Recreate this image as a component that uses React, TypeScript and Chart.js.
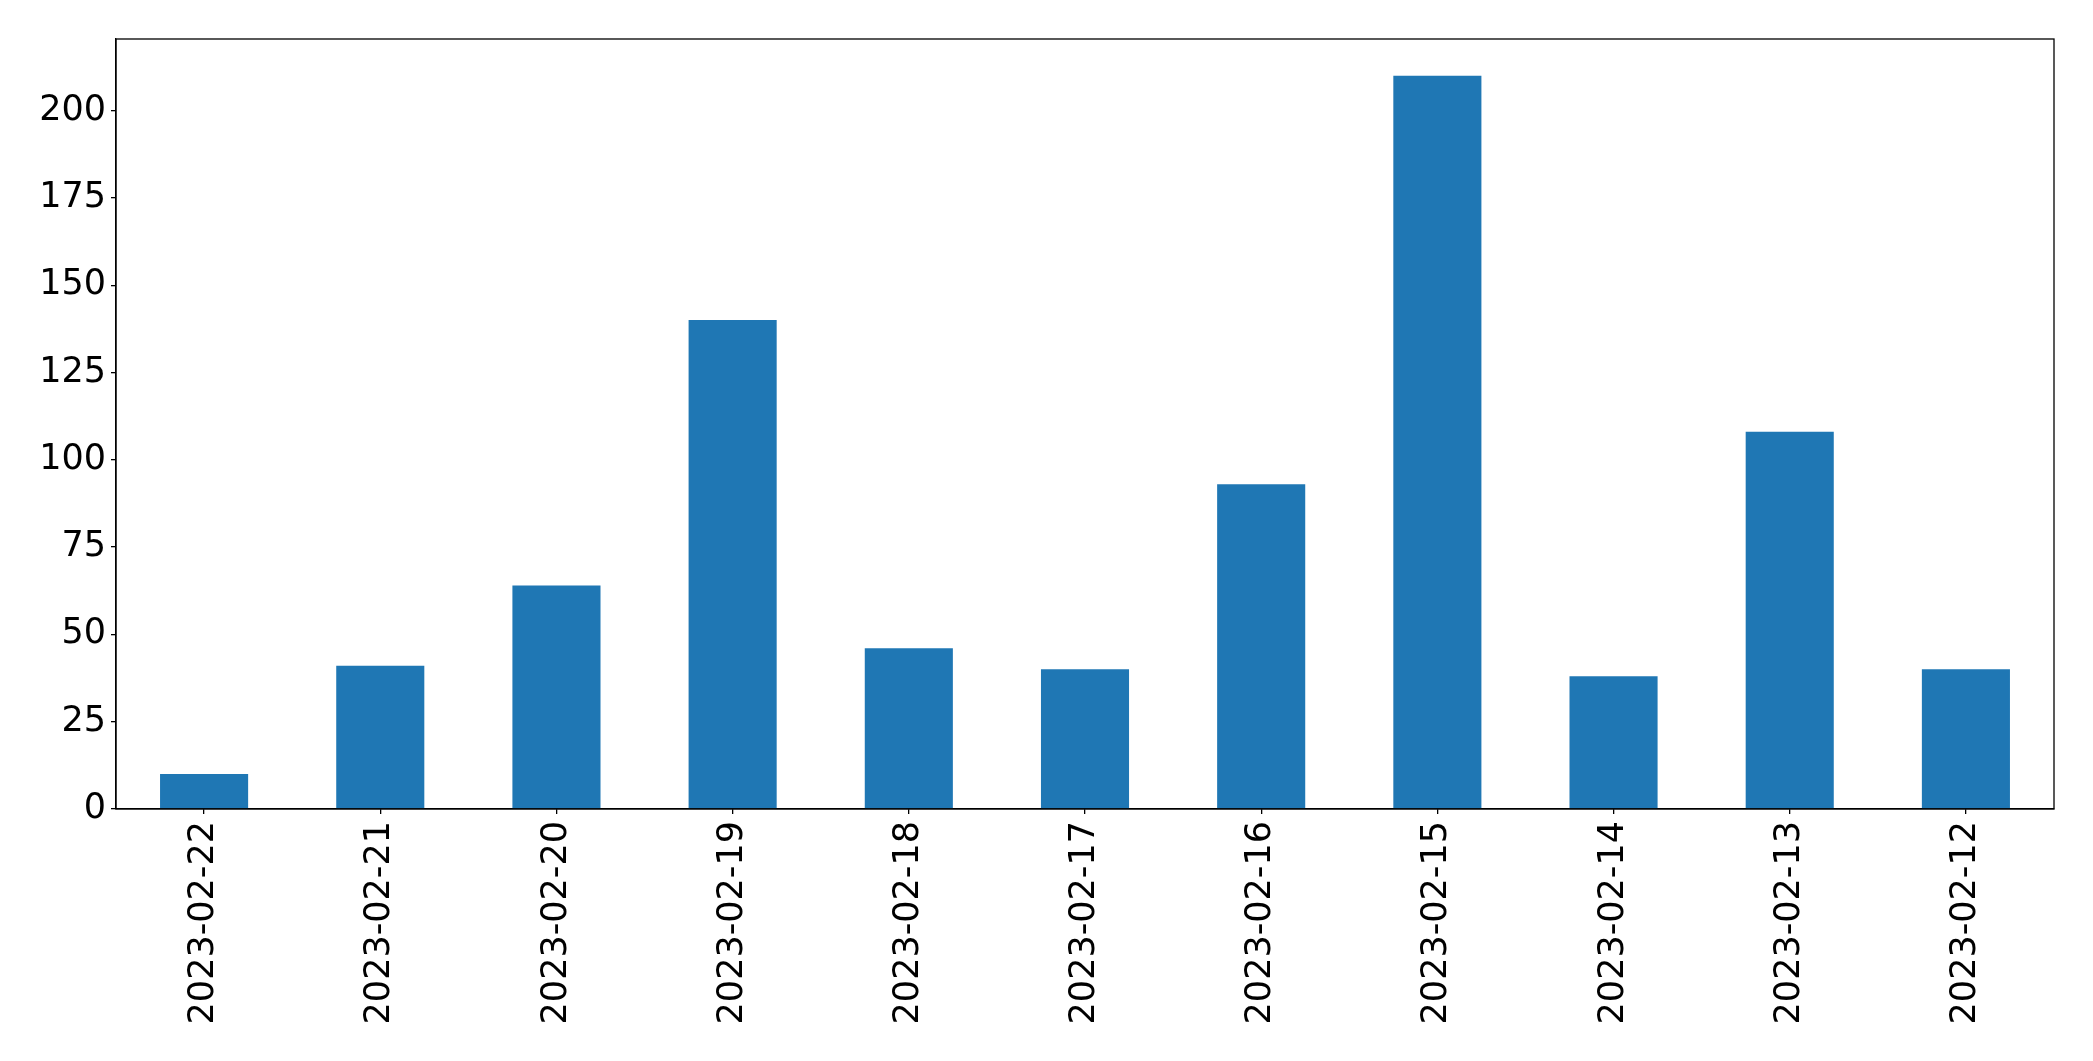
import React, { useEffect, useRef } from "react";
import { Chart, registerables } from "chart.js";

Chart.register(...registerables);

const categories = [
  "2023-02-22",
  "2023-02-21",
  "2023-02-20",
  "2023-02-19",
  "2023-02-18",
  "2023-02-17",
  "2023-02-16",
  "2023-02-15",
  "2023-02-14",
  "2023-02-13",
  "2023-02-12",
];
const counts = [10, 41, 64, 140, 46, 40, 93, 210, 38, 108, 40];
const yTickValues = [0, 25, 50, 75, 100, 125, 150, 175, 200];

const FONT = "'DejaVu Sans', sans-serif";

const framePlugin = {
  id: "frame",
  afterDraw(chart: any) {
    const { ctx, chartArea } = chart;
    ctx.save();
    ctx.strokeStyle = "#000";
    ctx.lineWidth = 1.3;
    ctx.strokeRect(chartArea.left, chartArea.top, chartArea.right - chartArea.left, chartArea.bottom - chartArea.top);
    ctx.restore();
  },
};

export default function App() {
  const ref = useRef<HTMLCanvasElement | null>(null);
  useEffect(() => {
    document.body.style.margin = "0";
    const chart = new Chart(ref.current as HTMLCanvasElement, {
      type: "bar",
      data: {
        labels: categories,
        datasets: [
          {
            data: counts,
            backgroundColor: "#1f77b4",
            borderWidth: 0,
            barPercentage: 0.5,
            categoryPercentage: 1,
          },
        ],
      },
      plugins: [framePlugin],
      options: {
        animation: false,
        responsive: false,
        maintainAspectRatio: false,
        layout: { padding: { left: 0, right: 39, top: 39, bottom: 0 } },
        plugins: { legend: { display: false }, tooltip: { enabled: false } },
        scales: {
          x: {
            offset: true,
            grid: { offset: false, drawOnChartArea: false, drawTicks: true, tickLength: 5, color: "#000", lineWidth: 1.3 },
            border: { display: true, color: "#000", width: 1.3 },
            ticks: {
              color: "#000",
              font: { family: FONT, size: 35 },
              minRotation: 90,
              maxRotation: 90,
              padding: 7,
              autoSkip: false,
            },
            afterFit(scale: any) {
              scale.height = 252;
            },
          },
          y: {
            min: 0,
            max: 220.5,
            grid: { drawOnChartArea: false, drawTicks: true, tickLength: 5, color: "#000", lineWidth: 1.3 },
            border: { display: true, color: "#000", width: 1.3 },
            ticks: {
              color: "#000",
              font: { family: FONT, size: 35 },
              padding: 5,
            },
            afterBuildTicks(scale: any) {
              scale.ticks = yTickValues.map((v) => ({ value: v }));
            },
            afterFit(scale: any) {
              scale.width = 116;
            },
          },
        },
      },
    });
    return () => chart.destroy();
  }, []);
  return (
    <div style={{ width: 2093, height: 1061, background: "#fff" }}>
      <canvas ref={ref} width={2093} height={1061} style={{ display: "block" }} />
    </div>
  );
}
